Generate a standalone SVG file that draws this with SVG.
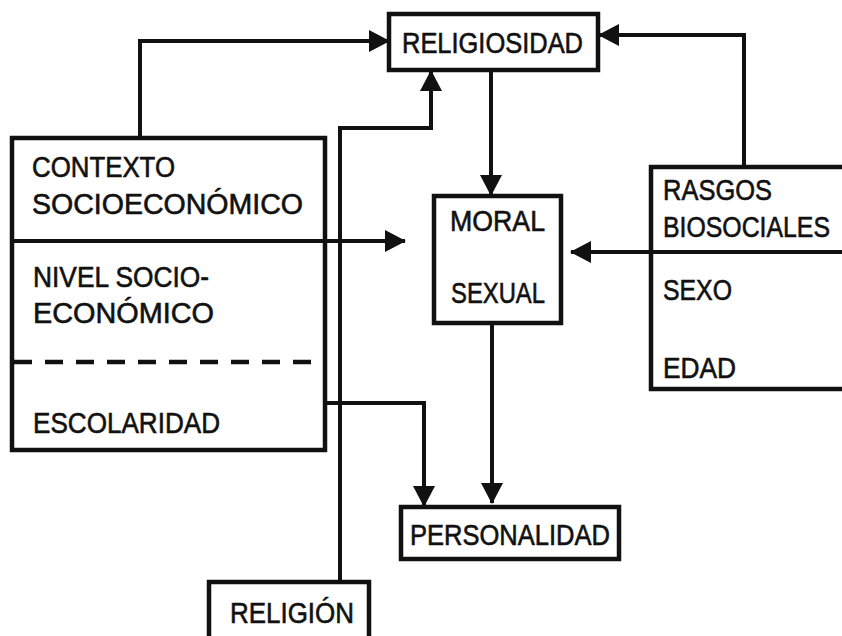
<svg xmlns="http://www.w3.org/2000/svg" width="842" height="636" viewBox="0 0 842 636">
<style>
.box{fill:none;stroke:#111;stroke-width:4.5}
.t{font-family:"Liberation Sans",Arial,sans-serif;font-size:29px;fill:#111;stroke:#111;stroke-width:0.6}
.c{fill:none;stroke:#111;stroke-width:4;marker-end:url(#ah)}
.d{fill:none;stroke:#111;stroke-width:4.5;stroke-dasharray:18,13}
</style>
<defs>
<marker id="ah" markerUnits="userSpaceOnUse" markerWidth="22" markerHeight="22" refX="20" refY="11" orient="auto">
<path d="M0,0 L21,11 L0,22 z" fill="#111"/>
</marker>
</defs>
<rect width="842" height="636" fill="#fff"/>
<g id="connectors">
<path class="c" d="M140,138 V41 H389"/>
<path class="c" d="M744,167 V35 H599"/>
<path class="c" d="M340,582 V128 H431 V71"/>
<path class="c" d="M491,70 V195"/>
<path class="c" d="M12,241 H405"/>
<path class="c" d="M842,252 H571"/>
<path class="c" d="M325,403 H424 V506"/>
<path class="c" d="M492,323 V503"/>
</g>
<g id="religiosidad">
<rect class="box" x="389" y="14" width="209" height="56"/>
<text class="t" x="402" y="53" textLength="181" lengthAdjust="spacingAndGlyphs">RELIGIOSIDAD</text>
</g>
<g id="contexto">
<rect class="box" x="12" y="138" width="313" height="312"/>
<line class="d" x1="14" y1="362" x2="323" y2="362"/>
<text class="t" x="32" y="177" textLength="143" lengthAdjust="spacingAndGlyphs">CONTEXTO</text>
<text class="t" x="32" y="214" textLength="271" lengthAdjust="spacingAndGlyphs">SOCIOECONÓMICO</text>
<text class="t" x="33" y="287" textLength="176" lengthAdjust="spacingAndGlyphs">NIVEL SOCIO-</text>
<text class="t" x="33" y="323" textLength="181" lengthAdjust="spacingAndGlyphs">ECONÓMICO</text>
<text class="t" x="33" y="433" textLength="187" lengthAdjust="spacingAndGlyphs">ESCOLARIDAD</text>
</g>
<g id="moral">
<rect class="box" x="434" y="196" width="127" height="127"/>
<text class="t" x="450" y="231" textLength="95" lengthAdjust="spacingAndGlyphs">MORAL</text>
<text class="t" x="451" y="303" textLength="94" lengthAdjust="spacingAndGlyphs">SEXUAL</text>
</g>
<g id="rasgos">
<path class="box" d="M846,167 H651 V389 H846"/>
<text class="t" x="663" y="200" textLength="109" lengthAdjust="spacingAndGlyphs">RASGOS</text>
<text class="t" x="663" y="237" textLength="167" lengthAdjust="spacingAndGlyphs">BIOSOCIALES</text>
<text class="t" x="663" y="300" textLength="69" lengthAdjust="spacingAndGlyphs">SEXO</text>
<text class="t" x="663" y="378" textLength="73" lengthAdjust="spacingAndGlyphs">EDAD</text>
</g>
<g id="personalidad">
<rect class="box" x="401" y="507" width="218" height="52"/>
<text class="t" x="410" y="545" textLength="200" lengthAdjust="spacingAndGlyphs">PERSONALIDAD</text>
</g>
<g id="religion">
<path class="box" d="M209,640 V582 H369 V640"/>
<text class="t" x="230" y="623" textLength="124" lengthAdjust="spacingAndGlyphs">RELIGIÓN</text>
</g>
</svg>
